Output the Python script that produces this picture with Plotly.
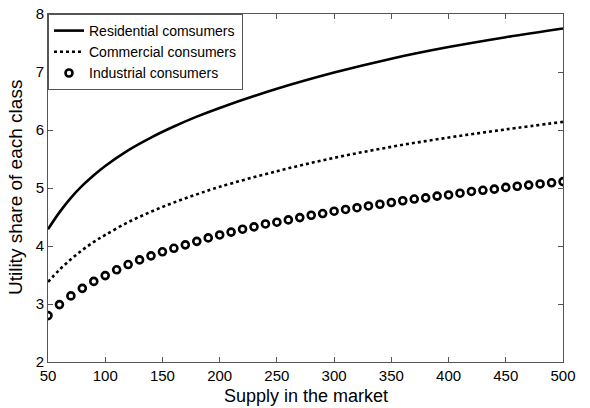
import plotly.graph_objects as go

# Residential / commercial curves (read at selected supply values)
x_curve = [50, 60, 70, 80, 90, 100, 120, 140, 160, 180, 200, 250, 300, 350, 400, 450, 500]
residential = [4.29, 4.58, 4.83, 5.04, 5.22, 5.38, 5.65, 5.87, 6.06, 6.23, 6.38, 6.71, 6.99, 7.23, 7.43, 7.60, 7.75]
commercial = [3.38, 3.59, 3.77, 3.93, 4.07, 4.19, 4.41, 4.59, 4.75, 4.89, 5.02, 5.29, 5.52, 5.71, 5.87, 6.01, 6.14]

# Industrial markers (every 10 units of supply)
x_ind = list(range(50, 501, 10))
industrial = [2.80, 2.99, 3.14, 3.27, 3.39, 3.49, 3.59, 3.68, 3.76, 3.83,
              3.90, 3.96, 4.02, 4.08, 4.14, 4.19, 4.24, 4.29, 4.33, 4.38,
              4.41, 4.45, 4.49, 4.53, 4.56, 4.60, 4.63, 4.66, 4.69, 4.72,
              4.75, 4.78, 4.81, 4.83, 4.86, 4.88, 4.91, 4.94, 4.96, 4.98,
              5.01, 5.03, 5.05, 5.07, 5.09, 5.11]

x_ticks = [50, 100, 150, 200, 250, 300, 350, 400, 450, 500]
y_ticks = [2, 3, 4, 5, 6, 7, 8]

x_title = "Supply in the market"
y_title = "Utility share of each class"

FONT = "Liberation Sans, Arial, Helvetica, sans-serif"

fig = go.Figure()
fig.add_trace(go.Scatter(x=x_curve, y=residential, mode="lines", name="Residential comsumers",
                         line=dict(color="black", width=2.6, shape="spline")))
fig.add_trace(go.Scatter(x=x_curve, y=commercial, mode="lines", name="Commercial consumers",
                         line=dict(color="black", width=2.6, dash="dot", shape="spline")))
fig.add_trace(go.Scatter(x=x_ind, y=industrial, mode="markers", name="Industrial consumers",
                         marker=dict(symbol="circle-open", color="black", size=7,
                                     line=dict(color="black", width=2.6))))

axis_common = dict(showgrid=False, zeroline=False, showline=True, linecolor="#555555",
                   linewidth=1, mirror="ticks", ticks="inside", ticklen=5, tickcolor="#555555",
                   automargin=False,
                   tickfont=dict(family=FONT, size=15, color="black"))

fig.update_layout(
    width=590, height=408,
    margin=dict(l=48, r=27, t=14, b=46),
    paper_bgcolor="white", plot_bgcolor="white",
    font=dict(family=FONT, color="black"),
    xaxis=dict(range=[50, 500], tickvals=x_ticks, **axis_common),
    yaxis=dict(range=[2, 8], tickvals=y_ticks, **axis_common),
    legend=dict(x=0, y=1, xanchor="left", yanchor="top", bgcolor="white",
                bordercolor="#555555", borderwidth=1,
                font=dict(family=FONT, size=14, color="black"),
                tracegroupgap=0, itemwidth=30),
    showlegend=True,
    annotations=[
        dict(text=x_title, xref="paper", yref="paper", x=0.5, y=-0.098,
             xanchor="center", yanchor="middle", showarrow=False,
             font=dict(family=FONT, size=18, color="black")),
        dict(text=y_title, xref="paper", yref="paper", x=-0.064, y=0.5,
             xanchor="center", yanchor="middle", showarrow=False, textangle=-90,
             font=dict(family=FONT, size=19, color="black")),
    ],
)

fig.write_html("out.html", config={"displayModeBar": False},
               post_script="document.body.style.margin='0';")
